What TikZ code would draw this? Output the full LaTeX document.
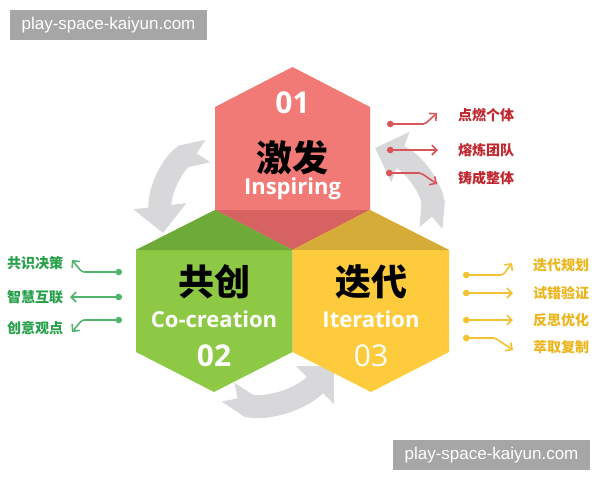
\documentclass[tikz,border=0pt]{standalone}
\usepackage{fontspec}
\setmainfont{Open Sans}
\newfontfamily\cjk{Noto Sans CJK SC}
\newfontfamily\wmfont{Liberation Sans}
\usetikzlibrary{arrows.meta}
\definecolor{redlight}{HTML}{F27A76}
\definecolor{reddark}{HTML}{D66262}
\definecolor{greenlight}{HTML}{8DC945}
\definecolor{greendark}{HTML}{6DAA38}
\definecolor{yellowlight}{HTML}{FDCB3C}
\definecolor{yellowdark}{HTML}{D6AC38}
\definecolor{redtext}{HTML}{C0262D}
\definecolor{redline}{HTML}{D9555A}
\definecolor{greentext}{HTML}{26A04A}
\definecolor{greenline}{HTML}{52B56E}
\definecolor{yellowtext}{HTML}{EDB51C}
\definecolor{yellowline}{HTML}{F2C230}
\definecolor{cyclegray}{HTML}{D8D8DA}
\definecolor{wmgray}{HTML}{A6A6A6}
\tikzset{cycle arrow/.style={draw=cyclegray, line width=23pt,
    {Triangle Cap[reversed]}-{Triangle[width=52pt, length=27pt]}}}
\tikzset{hex title/.style={font=\cjk\bfseries\fontsize{36}{36}\selectfont, text=black}}
\tikzset{hex name/.style={font=\bfseries\fontsize{22}{22}\selectfont, text=white}}
\tikzset{hex number/.style={font=\bfseries\fontsize{30}{30}\selectfont, text=white}}
\tikzset{side label/.style={anchor=west, inner sep=0pt, font=\cjk\bfseries\fontsize{14}{14}\selectfont}}
\tikzset{side line/.style={line width=1.6pt, rounded corners=2pt,
    {Circle[length=6.5pt]}-{Straight Barb[length=5pt, width=10pt]}}}
\tikzset{watermark/.style={fill=wmgray, text=white, inner sep=0pt,
    minimum width=197pt, minimum height=30pt, font=\wmfont\fontsize{17}{17}\selectfont}}

\begin{document}
\begin{tikzpicture}
  [x=1pt, y=-1pt]
  \useasboundingbox (0,0) rectangle (600,480);

  % turning arrows
  \draw [cycle arrow] (208,151) .. controls (176,158) and (158,190) .. (163,233);
  \draw [cycle arrow] (431,228) .. controls (434,192) and (414,162) .. (375,148);
  \draw [cycle arrow] (228,392) .. controls (255,410) and (295,405) .. (334,366);

  % hexagons
  \fill [redlight]    (292.5,67) -- (370,107) -- (370,210) -- (292.5,250) -- (215,210) -- (215,107) -- cycle;
  \fill [reddark]     (215,210) -- (370,210) -- (292.5,250) -- cycle;
  \fill [greenlight]  (215,210) -- (292.5,250) -- (292.5,352) -- (214,392) -- (136,352) -- (136,250) -- cycle;
  \fill [greendark]   (136,250) -- (215,210) -- (292.5,250) -- cycle;
  \fill [yellowlight] (370,210) -- (449,250) -- (449,352) -- (371,392) -- (292.5,352) -- (292.5,250) -- cycle;
  \fill [yellowdark]  (292.5,250) -- (370,210) -- (449,250) -- cycle;

  \node [hex number]  (num1)   at (292.5,103) {01};
  \node [hex title]   (title1) at (292.5,158) {激发};
  \node [hex name]    (name1)  at (292.5,189) {Inspiring};
  \node [hex title]   (title2) at (214,282)   {共创};
  \node [hex name]    (name2)  at (214,319)   {Co-creation};
  \node [hex number]  (num2)   at (214,356)   {02};
  \node [hex title]   (title3) at (371,282)   {迭代};
  \node [hex name]    (name3)  at (371,319)   {Iteration};
  \node [hex number, font=\fontsize{30}{30}\selectfont] (num3) at (371,356) {03};

  % inspiring side
  \node [side label, text=redtext]    (r1) at (458,115) {点燃个体};
  \node [side label, text=redtext]    (r2) at (458,150) {熔炼团队};
  \node [side label, text=redtext]    (r3) at (458,178) {铸成整体};
  \coordinate (r1s) at (387,124);  \coordinate (r1e) at (437,113);
  \coordinate (r2s) at (387,150);  \coordinate (r2e) at (438,150);
  \coordinate (r3s) at (386,173);  \coordinate (r3e) at (437,184);
  \draw [side line, redline] (r1s) -- ++(38,0) -- (r1e);
  \draw [side line, redline] (r2s) -- (r2e);
  \draw [side line, redline] (r3s) -- ++(35,0) -- (r3e);

  % co-creation side
  \node [side label, text=greentext]  (g1) at (7,263) {共识决策};
  \node [side label, text=greentext]  (g2) at (7,297) {智慧互联};
  \node [side label, text=greentext]  (g3) at (7,328) {创意观点};
  \coordinate (g1s) at (122,272);  \coordinate (g1e) at (72,260);
  \coordinate (g2s) at (122,297);  \coordinate (g2e) at (70,297);
  \coordinate (g3s) at (122,320);  \coordinate (g3e) at (72,332);
  \draw [side line, greenline] (g1s) -- ++(-40,0) -- (g1e);
  \draw [side line, greenline] (g2s) -- (g2e);
  \draw [side line, greenline] (g3s) -- ++(-40,0) -- (g3e);

  % iteration side
  \node [side label, text=yellowtext] (y1) at (533,265) {迭代规划};
  \node [side label, text=yellowtext] (y2) at (533,293) {试错验证};
  \node [side label, text=yellowtext] (y3) at (533,320) {反思优化};
  \node [side label, text=yellowtext] (y4) at (533,347) {萃取复制};
  \coordinate (y1s) at (463,275);  \coordinate (y1e) at (512,263);
  \coordinate (y2s) at (463,293);  \coordinate (y2e) at (513,293);
  \coordinate (y3s) at (463,320);  \coordinate (y3e) at (513,320);
  \coordinate (y4s) at (463,338);  \coordinate (y4e) at (513,350);
  \draw [side line, yellowline] (y1s) -- ++(40,0) -- (y1e);
  \draw [side line, yellowline] (y2s) -- (y2e);
  \draw [side line, yellowline] (y3s) -- (y3e);
  \draw [side line, yellowline] (y4s) -- ++(32,0) -- (y4e);

  % marks
  \node [watermark] (mark top)    at (108.5,25)  {play-space-kaiyun.com};
  \node [watermark] (mark bottom) at (491.5,455) {play-space-kaiyun.com};
\end{tikzpicture}
\end{document}
